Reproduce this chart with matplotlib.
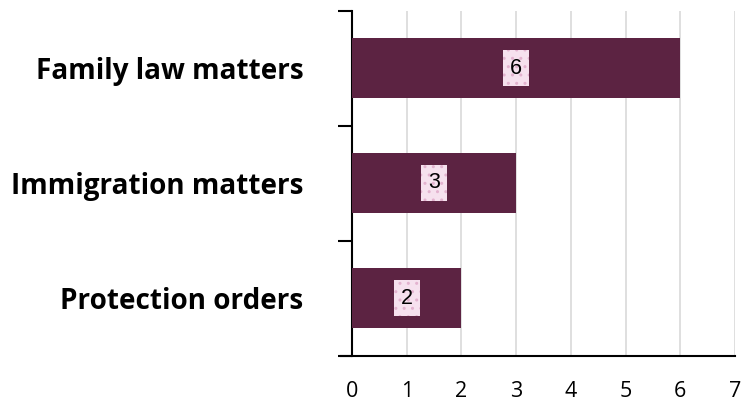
import numpy as np
import matplotlib.pyplot as plt

categories = ["Family law matters", "Immigration matters", "Protection orders"]
values = [6, 3, 2]
x_ticks = [0, 1, 2, 3, 4, 5, 6, 7]

BAR_COLOR = "#5c2342"
LABEL_BG = "#f6e1ee"
GRID_COLOR = "#d9d9d9"

fig = plt.figure(figsize=(7.43, 4.04), dpi=100)
ax = fig.add_axes([352 / 743, 1 - 355.5 / 404, (735 - 352) / 743, (355.5 - 10.5) / 404])

ypos = np.arange(len(categories))[::-1] + 0.5
ax.barh(ypos, values, height=0.52, color=BAR_COLOR, zorder=3)

for y, v in zip(ypos, values):
    ax.text(v / 2, y, str(v), ha="center", va="center", fontsize=15.5,
            family="Liberation Sans", color="black", zorder=5,
            bbox=dict(boxstyle="square,pad=0.33", fc=LABEL_BG, ec="#e3b3cf",
                      lw=0, hatch=".."))

ax.set_xlim(0, 7)
ax.set_ylim(0, 3)
ax.set_xticks(x_ticks)
ax.set_xticklabels([str(t) for t in x_ticks], family="Open Sans", fontsize=15.5)
ax.tick_params(axis="x", length=0, pad=18.5)

# category boundaries get the ticks, labels sit at the centres
ax.set_yticks([0, 1, 2, 3])
ax.set_yticklabels([])
ax.set_yticks(ypos, minor=True)
ax.set_yticklabels(categories, minor=True, family="Open Sans", fontweight="bold",
                   fontsize=20.1)
ax.tick_params(axis="y", which="major", length=10, width=1.5, color="black")
ax.tick_params(axis="y", which="minor", length=0, pad=35)

ax.grid(axis="x", color=GRID_COLOR, lw=1.2, zorder=0)
ax.set_axisbelow(True)
for side in ["top", "right"]:
    ax.spines[side].set_visible(False)
ax.spines["left"].set_linewidth(1.5)
ax.spines["bottom"].set_linewidth(1.5)
ax.spines["bottom"].set_bounds(-0.2, 7)

fig.savefig("out.png", dpi=100)
